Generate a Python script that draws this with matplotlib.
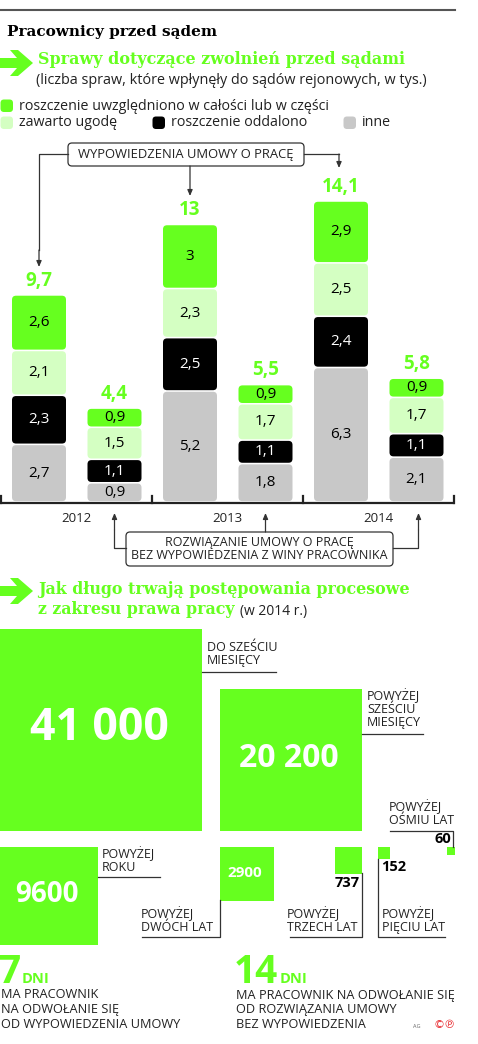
import numpy as np
import matplotlib.pyplot as plt
from matplotlib.patches import FancyBboxPatch, Rectangle, Polygon

# sprawy dotyczace zwolnien (tys.), kolejnosc: 2012 wyp., 2012 rozw., 2013 wyp., ...
years = ['2012', '2013', '2014']
inne = [2.7, 0.9, 5.2, 1.8, 6.3, 2.1]
oddalono = [2.3, 1.1, 2.5, 1.1, 2.4, 1.1]
ugoda = [2.1, 1.5, 2.3, 1.7, 2.5, 1.7]
uwzgl = [2.6, 0.9, 3.0, 0.9, 2.9, 0.9]
totals = [9.7, 4.4, 13.0, 5.5, 14.1, 5.8]

legend_labels = ['roszczenie uwzględniono w całości lub w części', 'zawarto ugodę',
                 'roszczenie oddalono', 'inne']

# czas trwania postepowan (2014)
dur_labels = ['DO SZEŚCIU\nMIESIĘCY', 'POWYŻEJ\nSZEŚCIU\nMIESIĘCY', 'POWYŻEJ\nROKU',
              'POWYŻEJ\nDWÓCH LAT', 'POWYŻEJ\nTRZECH LAT', 'POWYŻEJ\nPIĘCIU LAT',
              'POWYŻEJ\nOŚMIU LAT']
dur_values = [41000, 20200, 9600, 2900, 737, 152, 60]

days = [7, 14]
days_text = [['MA PRACOWNIK', 'NA ODWOŁANIE SIĘ', 'OD WYPOWIEDZENIA UMOWY'],
             ['MA PRACOWNIK NA ODWOŁANIE SIĘ', 'OD ROZWIĄZANIA UMOWY', 'BEZ WYPOWIEDZENIA']]

GREEN = '#66ff1f'
LIGHT = '#d4ffc2'
GREY = '#c8c8c8'
LINE = '#333333'
TXT = '#222222'
SANS = 'Open Sans'
SERIF = 'DejaVu Serif'

W, H = 478, 1044
fig = plt.figure(figsize=(W / 100, H / 100), dpi=100)
ax = fig.add_axes([0, 0, 1, 1])
ax.set_xlim(0, W)
ax.set_ylim(H, 0)
ax.axis('off')


def fmt(v):
    return ('%g' % v).replace('.', ',')


def fmt_big(v):
    return '{:,}'.format(v).replace(',', ' ') if v >= 10000 else str(v)


def green_arrow(x, y):
    pts = [(x, y - 5), (x + 17, y - 5), (x + 10, y - 13), (x + 18, y - 13), (x + 33, y),
           (x + 18, y + 13), (x + 10, y + 13), (x + 17, y + 5), (x, y + 5)]
    ax.add_patch(Polygon(pts, closed=True, color=GREEN, lw=0))


def rbox(x0, y0, w, h, col, r=3, ec='none', lw=0):
    ax.add_patch(FancyBboxPatch((x0, y0), w, h, boxstyle='round,pad=0,rounding_size=%g' % r,
                                fc=col, ec=ec, lw=lw))


def arrow(x0, y0, x1, y1):
    ax.annotate('', xy=(x1, y1), xytext=(x0, y0),
                arrowprops=dict(arrowstyle='-|>,head_length=0.35,head_width=0.15',
                                color=LINE, lw=0.9, shrinkA=0, shrinkB=0))


# naglowek
ax.plot([0, 455], [10, 10], color='#555555', lw=1.5)
ax.text(7, 32, 'Pracownicy przed sądem', family=SERIF, weight='bold', fontsize=11,
        va='center', color='black')
green_arrow(0, 63)
ax.text(38, 60, 'Sprawy dotyczące zwolnień przed sądami', family=SERIF, weight='bold',
        fontsize=11.5, va='center', color=GREEN)
ax.text(36, 80, '(liczba spraw, które wpłynęły do sądów rejonowych, w tys.)', family=SANS,
        fontsize=10.4, va='center', color=TXT)

# legenda
leg = [(0, 106, GREEN, legend_labels[0]), (0, 123, LIGHT, legend_labels[1]),
       (152, 123, 'black', legend_labels[2]), (343, 123, GREY, legend_labels[3])]
for lx, ly, col, lab in leg:
    rbox(lx + 0.5, ly - 6.5, 12.5, 12.5, col, r=3.5)
    ax.text(lx + 19, ly, lab, family=SANS, fontsize=10.3, va='center', color=TXT)

# wykres slupkowy
PX = 21.35
base, top = 502, 170
axb = fig.add_axes([0, (H - base) / H, 1, (base - top) / H])
axb.set_xlim(0, W)
axb.set_ylim(0, (base - top) / PX)
axb.axis('off')
axb.patch.set_alpha(0)

bw = 54
centers = [39 + (i // 2) * 151 + (i % 2) * 75.5 for i in range(len(totals))]
layers = [(inne, GREY, 'black'), (oddalono, 'black', 'white'),
          (ugoda, LIGHT, 'black'), (uwzgl, GREEN, 'black')]
gap = 0.8 / PX
for i, xc in enumerate(centers):
    bottom = 0
    for vals, col, tc in layers:
        h = vals[i]
        axb.add_patch(FancyBboxPatch((xc - bw / 2, bottom + gap), bw, h - 2 * gap,
                                     boxstyle='round,pad=0,rounding_size=4',
                                     mutation_aspect=1 / PX, fc=col, lw=0))
        axb.text(xc, bottom + h / 2, fmt(h), ha='center', va='center', family=SANS,
                 fontsize=11, color=tc)
        bottom += h
    axb.annotate(fmt(totals[i]), (xc, totals[i]), xytext=(0, 3), textcoords='offset points',
                 ha='center', va='bottom', family=SANS, weight='bold', fontsize=13.5,
                 color=GREEN)

# os x
ax.plot([0, 455], [503, 503], color=TXT, lw=1.6, solid_capstyle='butt')
for g in range(4):
    tx = 1.5 + g * 151
    ax.plot([tx, tx], [496, 503], color=TXT, lw=1.6)
for g, y in enumerate(years):
    ax.text((centers[2 * g] + centers[2 * g + 1]) / 2, 519, y, ha='center', va='center',
            family=SANS, fontsize=9.5, color=TXT)

# opis: wypowiedzenia
rbox(68, 143, 236, 23, 'white', r=4, ec=LINE, lw=0.9)
ax.text(186, 154.5, 'WYPOWIEDZENIA UMOWY O PRACĘ', ha='center', va='center', family=SANS,
        fontsize=9.4, color=TXT)
ax.plot([68, centers[0], centers[0]], [154, 154, 250], color=LINE, lw=0.9)
arrow(centers[0], 250, centers[0], 267)
arrow(centers[2], 166, centers[2], 196)
ax.plot([304, centers[4] - 2], [154, 154], color=LINE, lw=0.9)
arrow(centers[4] - 2, 154, centers[4] - 2, 168)

# opis: rozwiazanie bez wypowiedzenia
rbox(126, 532, 267, 34, 'white', r=4, ec=LINE, lw=0.9)
ax.text(259.5, 549, 'ROZWIĄZANIE UMOWY O PRACĘ\nBEZ WYPOWIEDZENIA Z WINY PRACOWNIKA',
        ha='center', va='center', family=SANS, fontsize=9.0, color=TXT,
        linespacing=1.0)
ax.plot([126, centers[1], centers[1]], [548, 548, 530], color=LINE, lw=0.9)
arrow(centers[1], 530, centers[1], 513)
arrow(centers[3], 532, centers[3], 513)
ax.plot([393, centers[5] + 2, centers[5] + 2], [548, 548, 530], color=LINE, lw=0.9)
arrow(centers[5] + 2, 530, centers[5] + 2, 513)

# sekcja 2
green_arrow(0, 591)
ax.text(38, 590, 'Jak długo trwają postępowania procesowe', family=SERIF, weight='bold',
        fontsize=11.4, va='center', color=GREEN)
ax.text(38, 610, 'z zakresu prawa pracy', family=SERIF, weight='bold',
        fontsize=11.4, va='center', color=GREEN)
ax.text(240, 611, '(w 2014 r.)', family=SANS, fontsize=10, va='center', color=TXT)

# kwadraty: bok proporcjonalny do pierwiastka z liczby spraw
sides = np.sqrt(dur_values)
# (kotwica x, kotwica y, tryb): 'lb' lewy-dol, 'lt' lewy-gora, 'rt' prawy-gora
anchors = [(0, 831, 'lb'), (220, 831, 'lb'), (0, 847, 'lt'), (220, 847, 'lt'),
           (362, 847, 'rt'), (378, 847, 'lt'), (455, 847, 'rt')]
boxes = []
for s, (axx, ayy, mode) in zip(sides, anchors):
    x0 = axx - s if mode[0] == 'r' else axx
    y0 = ayy - s if mode[1] == 'b' else ayy
    ax.add_patch(Rectangle((x0, y0), s, s, color=GREEN, lw=0))
    boxes.append((x0, y0, s))

big_fs = [32, 23, 20, 11]
for k in range(4):
    x0, y0, s = boxes[k]
    ax.text(x0 + s / 2 - 2, y0 + s / 2 - 1, fmt_big(dur_values[k]), ha='center', va='center',
            family=SANS, weight='bold', fontsize=big_fs[k], color='white')

lab_kw = dict(family=SANS, fontsize=9.0, color=TXT, linespacing=1.0)
num_kw = dict(family=SANS, weight='bold', fontsize=10.5, color='black')

# do szesciu miesiecy
ax.text(207, 654, dur_labels[0], va='center', **lab_kw)
ax.plot([202, 276], [672, 672], color=LINE, lw=0.9)
# powyzej szesciu miesiecy
ax.text(367, 709, dur_labels[1], va='center', **lab_kw)
ax.plot([362, 423], [734, 734], color=LINE, lw=0.9)
# powyzej roku
ax.text(102, 860, dur_labels[2], va='center', **lab_kw)
ax.plot([98, 160], [877, 877], color=LINE, lw=0.9)
# powyzej dwoch lat
ax.text(141, 920, dur_labels[3], va='center', **lab_kw)
ax.plot([142, 220, 220], [937, 937, 900], color=LINE, lw=0.9)
# powyzej trzech lat
ax.text(287, 920, dur_labels[4], va='center', **lab_kw)
ax.plot([290, 362, 362], [937, 937, 873], color=LINE, lw=0.9)
ax.text(360, 883, fmt_big(dur_values[4]), ha='right', va='center', **num_kw)
# powyzej pieciu lat
ax.text(382, 920, dur_labels[5], va='center', **lab_kw)
ax.plot([445, 378, 378], [937, 937, 859], color=LINE, lw=0.9)
ax.text(381, 867, fmt_big(dur_values[5]), ha='left', va='center', **num_kw)
# powyzej osmiu lat
ax.text(389, 813, dur_labels[6], va='center', **lab_kw)
ax.plot([390, 453, 453], [831, 831, 847], color=LINE, lw=0.9)
ax.text(451, 839, fmt_big(dur_values[6]), ha='right', va='center', **num_kw)

# terminy odwolania
for (dx, dni_x), d, lines in zip([(0, 22), (235, 280)], days, days_text):
    ax.text(dx - 1, 983, str(d), family=SANS, weight='bold', fontsize=28, color=GREEN,
            va='baseline')
    ax.text(dni_x, 983, 'DNI', family=SANS, weight='bold', fontsize=10.5, color=GREEN,
            va='baseline')
    for j, line in enumerate(lines):
        ax.text(dx + 1, 995 + 15 * j, line, va='center', family=SANS, fontsize=9.2, color=TXT)

ax.text(413, 1026, 'AG', family=SANS, fontsize=4, color='#666666', va='center')
ax.text(434, 1025, '©℗', family='DejaVu Sans', fontsize=8, color='#e8262b', va='center')

fig.savefig('out.png', dpi=100, facecolor='white')
